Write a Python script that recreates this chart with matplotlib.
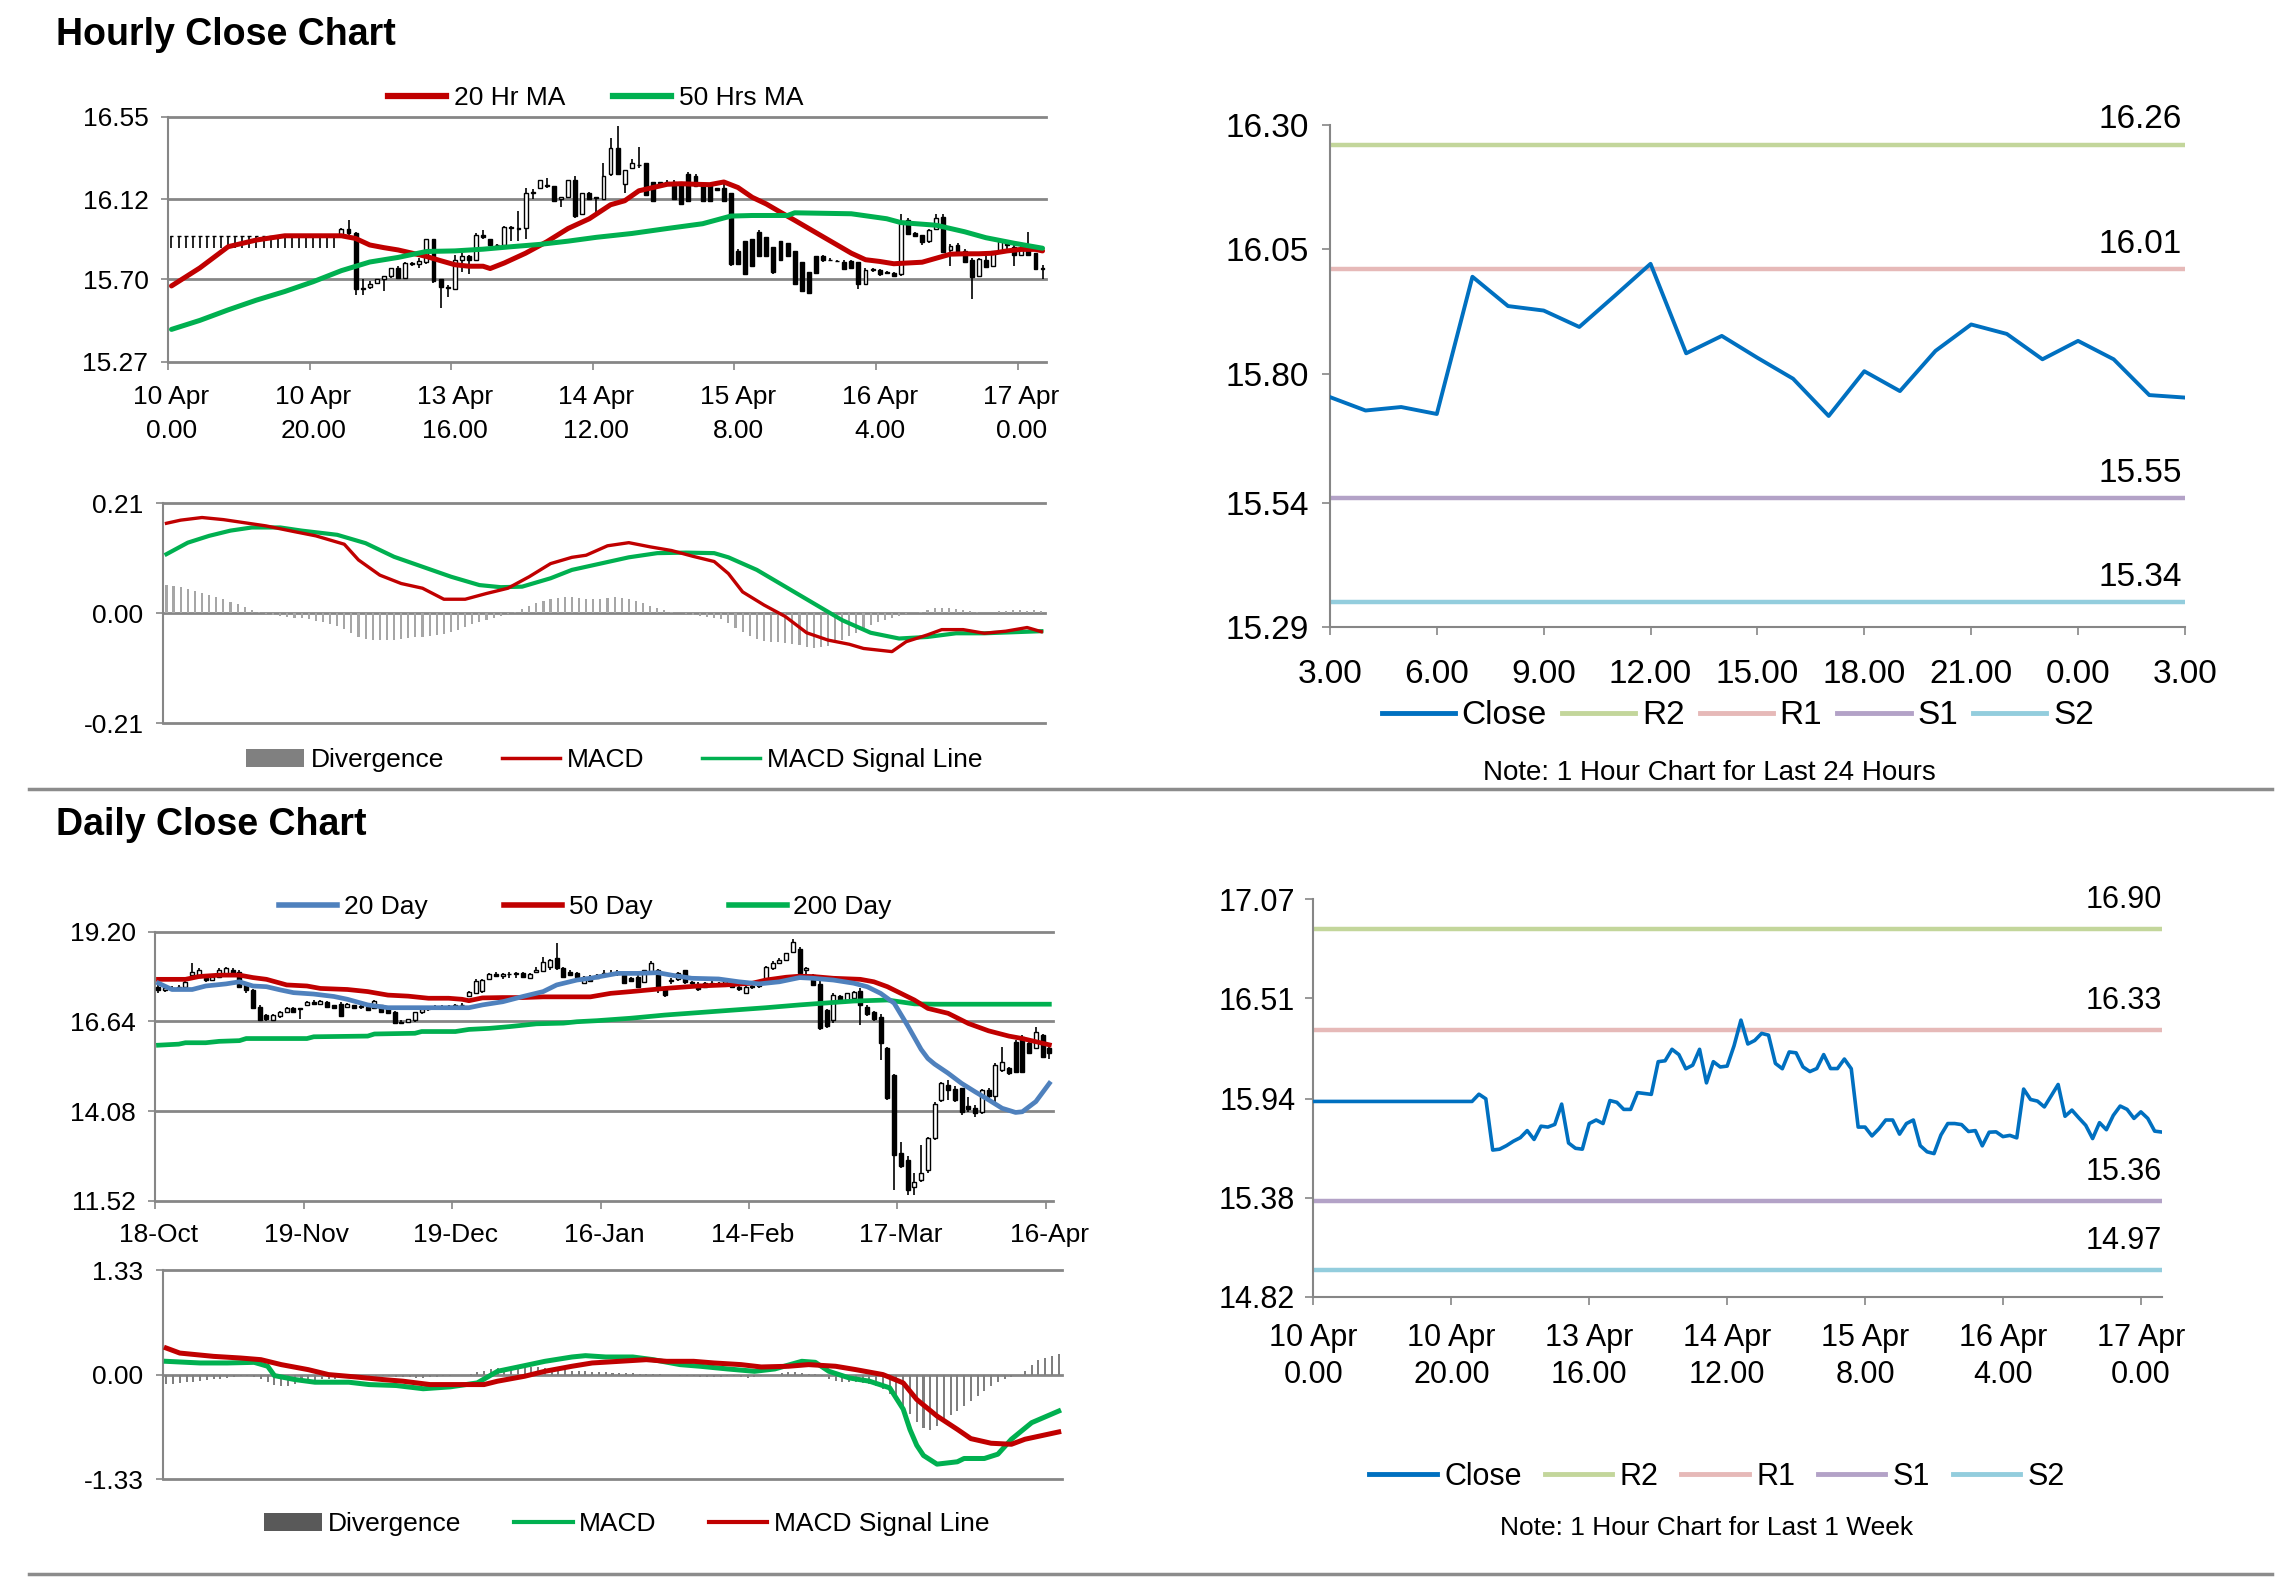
import numpy as np
import matplotlib
matplotlib.use('Agg')
import matplotlib.pyplot as plt
from matplotlib.lines import Line2D
from matplotlib.patches import Patch

plt.rcParams['font.family'] = ['Liberation Sans', 'DejaVu Sans']

# ---------------- hourly candles (10 Apr 0.00 -> 17 Apr 3.00) ----------------
hourly_labels = ['10 Apr\n0.00', '10 Apr\n20.00', '13 Apr\n16.00', '14 Apr\n12.00',
                 '15 Apr\n8.00', '16 Apr\n4.00', '17 Apr\n0.00']
hourly_open = [
    15.925, 15.925, 15.925, 15.925, 15.925, 15.925, 15.925, 15.925, 15.925, 15.925,
    15.925, 15.925, 15.925, 15.925, 15.925, 15.925, 15.925, 15.925, 15.925, 15.925,
    15.925, 15.925, 15.925, 15.925, 15.93, 15.966, 15.94, 15.65, 15.66, 15.68,
    15.70, 15.72, 15.76, 15.71, 15.785, 15.78, 15.79, 15.91, 15.70, 15.66,
    15.65, 15.80, 15.82, 15.80, 15.93, 15.91, 15.88, 15.88, 15.975, 15.97,
    15.97, 16.15, 16.18, 16.195, 16.19, 16.12, 16.13, 16.22, 16.04, 16.15,
    16.13, 16.12, 16.25, 16.385, 16.20, 16.28, 16.30, 16.31, 16.21, 16.21,
    16.21, 16.21, 16.197, 16.25, 16.24, 16.197, 16.197, 16.18, 16.18, 16.15,
    15.85, 15.90, 15.91, 15.95, 15.92, 15.87, 15.90, 15.89, 15.85, 15.79,
    15.74, 15.82, 15.82, 15.80, 15.795, 15.79, 15.794, 15.79, 15.674, 15.75,
    15.751, 15.74, 15.735, 15.726, 16.01, 15.94, 15.93, 15.90, 15.966, 16.026,
    15.855, 15.88, 15.846, 15.80, 15.717, 15.80, 15.77, 15.85, 15.90, 15.871,
    15.83, 15.854, 15.837, 15.76]
hourly_high = [
    15.925, 15.925, 15.925, 15.925, 15.925, 15.925, 15.925, 15.925, 15.925, 15.925,
    15.925, 15.925, 15.925, 15.925, 15.925, 15.925, 15.925, 15.925, 15.925, 15.925,
    15.925, 15.925, 15.925, 15.925, 15.97, 16.01, 15.95, 15.70, 15.69, 15.70,
    15.72, 15.76, 15.77, 15.79, 15.79, 15.81, 15.91, 15.91, 15.70, 15.67,
    15.83, 15.84, 15.83, 15.94, 15.96, 15.91, 15.885, 15.98, 15.98, 16.06,
    16.18, 16.17, 16.22, 16.23, 16.19, 16.13, 16.22, 16.24, 16.15, 16.155,
    16.13, 16.31, 16.44, 16.50, 16.27, 16.33, 16.39, 16.31, 16.21, 16.21,
    16.22, 16.22, 16.20, 16.26, 16.25, 16.20, 16.20, 16.18, 16.20, 16.15,
    15.86, 15.90, 15.91, 15.96, 15.92, 15.87, 15.90, 15.89, 15.85, 15.79,
    15.74, 15.82, 15.83, 15.81, 15.80, 15.80, 15.80, 15.79, 15.76, 15.76,
    15.755, 15.745, 15.74, 16.04, 16.02, 15.95, 15.93, 15.966, 16.04, 16.04,
    15.883, 15.89, 15.86, 15.81, 15.81, 15.82, 15.85, 15.90, 15.905, 15.88,
    15.875, 15.949, 15.84, 15.777]
hourly_low = [
    15.865, 15.865, 15.865, 15.865, 15.865, 15.865, 15.865, 15.865, 15.865, 15.865,
    15.865, 15.865, 15.865, 15.865, 15.865, 15.865, 15.865, 15.865, 15.865, 15.865,
    15.865, 15.865, 15.865, 15.865, 15.93, 15.93, 15.62, 15.62, 15.65, 15.68,
    15.64, 15.71, 15.70, 15.70, 15.77, 15.76, 15.78, 15.68, 15.55, 15.61,
    15.65, 15.74, 15.73, 15.80, 15.91, 15.88, 15.875, 15.88, 15.90, 15.90,
    15.91, 16.12, 16.18, 16.18, 16.11, 16.08, 16.13, 16.02, 16.04, 16.12,
    16.05, 16.12, 16.24, 16.25, 16.15, 16.28, 16.28, 16.14, 16.11, 16.20,
    16.19, 16.12, 16.09, 16.11, 16.19, 16.11, 16.11, 16.16, 16.11, 15.77,
    15.78, 15.73, 15.77, 15.82, 15.82, 15.73, 15.80, 15.82, 15.67, 15.64,
    15.63, 15.73, 15.79, 15.80, 15.79, 15.75, 15.76, 15.65, 15.674, 15.74,
    15.72, 15.73, 15.715, 15.72, 15.93, 15.92, 15.88, 15.89, 15.96, 15.84,
    15.769, 15.83, 15.785, 15.60, 15.715, 15.76, 15.77, 15.845, 15.85, 15.769,
    15.83, 15.825, 15.75, 15.70]
hourly_close = [
    15.925, 15.925, 15.925, 15.925, 15.925, 15.925, 15.925, 15.925, 15.925, 15.925,
    15.925, 15.925, 15.925, 15.925, 15.925, 15.925, 15.925, 15.925, 15.925, 15.925,
    15.925, 15.925, 15.925, 15.925, 15.966, 15.94, 15.65, 15.655, 15.675, 15.70,
    15.72, 15.76, 15.71, 15.785, 15.78, 15.795, 15.91, 15.69, 15.66, 15.655,
    15.80, 15.82, 15.80, 15.93, 15.92, 15.88, 15.88, 15.975, 15.97, 15.965,
    16.15, 16.155, 16.22, 16.19, 16.11, 16.13, 16.22, 16.03, 16.15, 16.12,
    16.125, 16.24, 16.385, 16.25, 16.27, 16.31, 16.30, 16.14, 16.11, 16.205,
    16.20, 16.12, 16.094, 16.111, 16.19, 16.111, 16.111, 16.165, 16.11, 15.78,
    15.78, 15.73, 15.77, 15.82, 15.82, 15.74, 15.80, 15.82, 15.675, 15.64,
    15.63, 15.735, 15.80, 15.80, 15.794, 15.755, 15.76, 15.674, 15.751, 15.753,
    15.726, 15.733, 15.719, 15.995, 15.936, 15.927, 15.894, 15.957, 16.021, 15.841,
    15.876, 15.832, 15.790, 15.715, 15.805, 15.765, 15.846, 15.899, 15.880, 15.829,
    15.866, 15.829, 15.757, 15.752]

ma20_idx = [0, 4, 8, 12, 16, 20, 24, 26, 28, 30, 32, 34, 36, 38, 40, 42, 44, 45, 47, 50,
            53, 56, 59, 62, 64, 66, 68, 70, 72, 74, 76, 78, 80, 82, 84, 86, 88, 90, 92, 94,
            96, 98, 100, 102, 104, 106, 108, 110, 112, 114, 116, 118, 120, 122, 123]
ma20_val = [15.666, 15.760, 15.871, 15.906, 15.928, 15.928, 15.928, 15.914, 15.880, 15.866,
            15.854, 15.837, 15.820, 15.798, 15.777, 15.769, 15.769, 15.757, 15.786, 15.837,
            15.897, 15.966, 16.017, 16.090, 16.111, 16.163, 16.180, 16.197, 16.200, 16.197,
            16.195, 16.209, 16.180, 16.129, 16.094, 16.051, 16.009, 15.966, 15.923, 15.880,
            15.837, 15.803, 15.794, 15.782, 15.786, 15.790, 15.811, 15.832, 15.834, 15.834,
            15.837, 15.849, 15.857, 15.857, 15.849]
ma50_idx = [0, 4, 8, 12, 16, 20, 24, 28, 32, 36, 40, 44, 48, 52, 56, 60, 65, 70, 75, 79,
            82, 87, 88, 96, 101, 103, 108, 112, 115, 119, 123]
ma50_val = [15.439, 15.486, 15.541, 15.592, 15.637, 15.688, 15.746, 15.791, 15.815, 15.846,
            15.849, 15.858, 15.871, 15.883, 15.900, 15.920, 15.940, 15.966, 15.991, 16.031,
            16.034, 16.034, 16.048, 16.043, 16.017, 15.997, 15.983, 15.949, 15.918, 15.889,
            15.863]

# hourly MACD
hm_macd_idx = [0, 2, 5, 8, 11, 14, 18, 21, 25, 27, 30, 33, 36, 39, 42, 45, 48, 51, 54, 57,
               59, 62, 65, 68, 71, 74, 77, 79, 81, 84, 87, 90, 93, 96, 98, 102, 104, 107, 109, 112,
               115, 118, 121, 123]
hm_macd_val = [0.172, 0.178, 0.183, 0.179, 0.173, 0.167, 0.156, 0.148, 0.132, 0.102,
               0.073, 0.057, 0.048, 0.027, 0.027, 0.038, 0.048, 0.070, 0.095, 0.107,
               0.111, 0.129, 0.135, 0.127, 0.120, 0.109, 0.099, 0.076, 0.041, 0.016,
               -0.006, -0.037, -0.051, -0.059, -0.067, -0.073, -0.054, -0.041, -0.031, -0.031,
               -0.038, -0.034, -0.027, -0.035]
hm_sig_idx = [0, 3, 6, 9, 12, 16, 19, 24, 28, 32, 36, 40, 44, 47, 50, 54, 57, 61, 65, 69,
              73, 77, 79, 83, 87, 91, 95, 99, 103, 107, 111, 115, 119, 123]
hm_sig_val = [0.113, 0.135, 0.148, 0.158, 0.164, 0.164, 0.158, 0.150, 0.134, 0.108,
              0.089, 0.070, 0.054, 0.050, 0.051, 0.067, 0.083, 0.095, 0.107, 0.115,
              0.116, 0.115, 0.107, 0.083, 0.051, 0.019, -0.013, -0.037, -0.048, -0.045,
              -0.038, -0.038, -0.036, -0.034]
hm_div = [0.054, 0.052, 0.050, 0.047, 0.043, 0.039, 0.035, 0.031, 0.027, 0.022,
          0.017, 0.012, 0.007, 0.003, -0.002, -0.004, -0.005, -0.006, -0.008, -0.009,
          -0.011, -0.014, -0.017, -0.020, -0.024, -0.030, -0.038, -0.045, -0.049, -0.051,
          -0.051, -0.050, -0.050, -0.048, -0.047, -0.046, -0.045, -0.044, -0.042, -0.040,
          -0.036, -0.031, -0.026, -0.021, -0.016, -0.012, -0.008, -0.005, -0.002, 0.002,
          0.008, 0.014, 0.020, 0.024, 0.027, 0.029, 0.031, 0.031, 0.030, 0.028,
          0.027, 0.028, 0.030, 0.031, 0.030, 0.028, 0.024, 0.020, 0.015, 0.010,
          0.006, 0.003, 0.001, -0.002, -0.004, -0.005, -0.006, -0.008, -0.010, -0.018,
          -0.027, -0.036, -0.043, -0.048, -0.052, -0.054, -0.055, -0.056, -0.058, -0.061,
          -0.064, -0.066, -0.065, -0.062, -0.057, -0.051, -0.044, -0.037, -0.030, -0.023,
          -0.017, -0.012, -0.008, -0.005, -0.002, 0.001, 0.003, 0.006, 0.010, 0.011,
          0.010, 0.009, 0.007, 0.004, 0.002, 0.000, 0.001, 0.004, 0.005, 0.006,
          0.006, 0.005, 0.006, 0.004]

# pivots
hours_24_labels = ['3.00', '6.00', '9.00', '12.00', '15.00', '18.00', '21.00', '0.00', '3.00']
levels_names = ['R2', 'R1', 'S1', 'S2']
levels_24h = [16.26, 16.01, 15.55, 15.34]
levels_week = [16.90, 16.33, 15.36, 14.97]

# ---------------- daily candles (18-Oct -> 16-Apr) ----------------
daily_labels = ['18-Oct', '19-Nov', '19-Dec', '16-Jan', '14-Feb', '17-Mar', '16-Apr']
daily_open = [
    17.63, 17.54, 17.58, 17.56, 17.63, 17.96, 17.92, 17.87, 17.82, 17.92,
    17.96, 18.11, 18.06, 17.72, 17.53, 17.06, 16.82, 16.68, 16.78, 16.92,
    17.01, 17.01, 17.11, 17.20, 17.15, 17.20, 17.10, 17.15, 17.06, 17.10,
    17.06, 17.05, 17.01, 17.10, 17.01, 16.92, 16.62, 16.63, 16.68, 16.90,
    16.98, 17.02, 17.05, 17.04, 17.08, 17.10, 17.35, 17.44, 17.50, 17.85,
    18.00, 17.93, 18.00, 17.98, 18.02, 17.88, 18.05, 18.08, 18.18, 18.44,
    18.15, 18.06, 18.02, 17.73, 17.90, 17.87, 17.96, 18.03, 18.00, 17.96,
    17.87, 17.92, 17.77, 18.01, 18.10, 17.55, 17.78, 17.85, 18.10, 17.73,
    17.70, 17.62, 17.74, 17.69, 17.73, 17.73, 17.62, 17.45, 17.62, 17.66,
    17.86, 18.15, 18.30, 18.38, 18.62, 18.72, 18.10, 17.96, 17.72, 16.96,
    16.68, 17.35, 17.25, 17.30, 17.50, 17.06, 16.92, 16.77, 15.87, 15.11,
    12.87, 12.68, 11.92, 12.10, 12.40, 13.30, 14.40, 14.82, 14.70, 14.73,
    14.21, 14.18, 14.06, 14.68, 14.50, 15.25, 15.30, 16.06, 16.20, 16.01,
    15.87, 16.25, 15.87]
daily_high = [
    17.73, 17.63, 17.65, 17.68, 17.78, 18.30, 18.15, 17.92, 17.95, 18.15,
    18.20, 18.16, 18.10, 17.75, 17.55, 17.10, 16.86, 16.86, 16.95, 17.06,
    17.04, 17.02, 17.22, 17.26, 17.25, 17.22, 17.12, 17.18, 17.16, 17.12,
    17.12, 17.07, 17.25, 17.12, 17.03, 16.95, 16.68, 16.72, 16.92, 17.02,
    17.06, 17.11, 17.10, 17.11, 17.15, 17.16, 17.50, 17.84, 17.85, 18.03,
    18.05, 18.02, 18.06, 18.06, 18.05, 18.03, 18.18, 18.49, 18.42, 18.87,
    18.20, 18.12, 18.06, 17.94, 17.95, 17.98, 18.10, 18.12, 18.10, 18.04,
    17.90, 17.95, 18.12, 18.35, 18.13, 17.63, 17.87, 18.06, 18.12, 17.80,
    17.75, 17.76, 17.78, 17.76, 17.85, 17.78, 17.66, 17.66, 17.70, 17.75,
    18.22, 18.36, 18.45, 18.60, 18.98, 18.76, 18.20, 17.98, 17.80, 17.00,
    17.44, 17.40, 17.46, 17.50, 17.58, 17.10, 16.95, 16.85, 15.90, 15.15,
    13.21, 12.80, 12.30, 13.10, 13.35, 14.35, 14.92, 14.97, 14.80, 14.75,
    14.49, 14.25, 14.70, 14.75, 15.45, 15.92, 15.35, 16.10, 16.25, 16.05,
    16.49, 16.28, 15.90]
daily_low = [
    17.44, 17.49, 17.52, 17.50, 17.60, 17.90, 17.90, 17.77, 17.80, 17.90,
    17.94, 17.98, 17.60, 17.45, 16.98, 16.64, 16.66, 16.64, 16.75, 16.88,
    16.90, 16.72, 17.08, 17.13, 17.10, 17.04, 16.99, 16.77, 17.03, 17.00,
    17.00, 16.95, 16.99, 16.90, 16.88, 16.56, 16.58, 16.60, 16.62, 16.86,
    16.95, 17.00, 17.00, 17.02, 17.05, 17.07, 17.33, 17.42, 17.45, 17.82,
    17.90, 17.86, 17.87, 17.88, 17.88, 17.86, 18.04, 18.05, 18.10, 18.10,
    17.90, 17.94, 17.90, 17.70, 17.76, 17.85, 17.93, 17.95, 17.94, 17.70,
    17.75, 17.60, 17.75, 17.98, 17.44, 17.34, 17.72, 17.80, 17.70, 17.66,
    17.50, 17.60, 17.66, 17.66, 17.70, 17.58, 17.50, 17.42, 17.57, 17.60,
    17.84, 18.10, 18.28, 18.35, 18.60, 18.00, 17.95, 17.65, 16.40, 16.45,
    16.60, 17.15, 17.20, 17.25, 16.54, 16.80, 16.65, 15.55, 14.40, 11.83,
    12.45, 11.68, 11.68, 12.06, 12.30, 13.25, 14.35, 14.40, 14.35, 13.96,
    14.06, 13.92, 14.00, 14.45, 14.35, 15.20, 15.10, 15.18, 15.18, 15.70,
    15.85, 15.60, 15.58]
daily_close = [
    17.54, 17.58, 17.56, 17.63, 17.75, 18.06, 18.11, 17.82, 17.90, 18.11,
    18.15, 18.01, 17.63, 17.53, 17.01, 16.68, 16.70, 16.82, 16.92, 17.01,
    16.92, 16.98, 17.20, 17.15, 17.22, 17.06, 17.01, 16.78, 17.14, 17.03,
    17.08, 16.96, 17.22, 16.92, 16.89, 16.58, 16.60, 16.70, 16.90, 16.98,
    17.00, 17.05, 17.04, 17.08, 17.10, 17.12, 17.47, 17.80, 17.82, 18.00,
    17.93, 18.00, 17.98, 18.02, 17.92, 18.00, 18.12, 18.34, 18.39, 18.15,
    17.92, 17.96, 17.92, 17.92, 17.78, 17.95, 18.03, 18.00, 18.05, 17.73,
    17.79, 17.63, 18.10, 18.30, 17.55, 17.40, 17.82, 18.02, 17.77, 17.75,
    17.55, 17.74, 17.69, 17.73, 17.80, 17.62, 17.55, 17.62, 17.66, 17.72,
    18.20, 18.30, 18.40, 18.58, 18.91, 18.01, 18.15, 17.68, 16.45, 16.50,
    17.40, 17.20, 17.44, 17.49, 17.10, 16.85, 16.70, 16.01, 14.44, 12.83,
    12.50, 11.83, 12.06, 12.30, 13.30, 14.28, 14.87, 14.68, 14.40, 14.06,
    14.15, 14.03, 14.68, 14.50, 15.40, 15.49, 15.16, 15.20, 15.20, 15.73,
    16.35, 15.63, 15.75]

d20_idx = [0, 2, 5, 7, 10, 12, 14, 16, 18, 20, 23, 26, 28, 31, 34, 37, 40, 43, 46, 48,
           51, 54, 57, 59, 62, 64, 68, 71, 74, 76, 79, 83, 86, 89, 92, 95, 97, 100, 103, 105,
           107, 109, 110, 111, 112, 113, 114, 115, 117, 119, 121, 123, 125, 127, 128, 130, 132]
d20_val = [17.73, 17.55, 17.55, 17.65, 17.71, 17.77, 17.65, 17.63, 17.54, 17.46,
           17.42, 17.35, 17.27, 17.11, 17.03, 17.03, 17.03, 17.03, 17.03, 17.11,
           17.20, 17.35, 17.49, 17.68, 17.82, 17.87, 18.01, 18.01, 18.03, 17.96,
           17.87, 17.85, 17.77, 17.71, 17.77, 17.89, 17.87, 17.82, 17.73, 17.63,
           17.44, 17.16, 16.84, 16.52, 16.18, 15.84, 15.58, 15.42, 15.16, 14.87,
           14.63, 14.40, 14.16, 14.04, 14.06, 14.35, 14.87]
d50_idx = [0, 4, 6, 9, 12, 14, 16, 19, 22, 24, 28, 31, 34, 37, 40, 43, 45, 46, 48, 51,
           54, 57, 61, 64, 67, 70, 75, 80, 84, 88, 90, 93, 95, 97, 100, 104, 106, 108, 110, 112,
           114, 117, 120, 123, 126, 128, 130, 132]
d50_val = [17.84, 17.84, 17.92, 17.96, 17.96, 17.89, 17.84, 17.68, 17.65, 17.58,
           17.55, 17.49, 17.39, 17.36, 17.30, 17.30, 17.27, 17.23, 17.31, 17.32,
           17.32, 17.34, 17.34, 17.34, 17.44, 17.49, 17.58, 17.65, 17.68, 17.73,
           17.82, 17.90, 17.93, 17.92, 17.87, 17.84, 17.77, 17.63, 17.44, 17.25,
           17.01, 16.87, 16.58, 16.37, 16.22, 16.15, 16.06, 15.97]
d200_idx = [0, 3, 4, 7, 9, 12, 13, 22, 23, 31, 32, 38, 39, 44, 46, 49, 52, 56, 60, 62,
            65, 70, 75, 80, 85, 90, 95, 100, 103, 108, 112, 115, 132]
d200_val = [15.96, 15.99, 16.03, 16.03, 16.07, 16.09, 16.15, 16.15, 16.20, 16.22,
            16.28, 16.30, 16.35, 16.35, 16.41, 16.44, 16.49, 16.57, 16.59, 16.63,
            16.66, 16.73, 16.82, 16.89, 16.96, 17.03, 17.11, 17.18, 17.22, 17.25,
            17.14, 17.13, 17.13]

# daily MACD
dm_macd_idx = [0, 5, 9, 13, 15, 16, 19, 22, 27, 30, 34, 38, 42, 46, 49, 53, 56, 60, 62, 65,
               69, 72, 76, 79, 83, 87, 90, 94, 96, 98, 101, 104, 107, 109, 110, 111, 112, 114, 117, 118,
               121, 123, 125, 128, 132]
dm_macd_val = [0.169, 0.148, 0.148, 0.156, 0.106, -0.013, -0.063, -0.097, -0.097, -0.127,
               -0.139, -0.180, -0.156, -0.106, 0.042, 0.114, 0.169, 0.224, 0.241, 0.224,
               0.224, 0.190, 0.127, 0.106, 0.072, 0.042, 0.072, 0.169, 0.156, 0.042,
               -0.042, -0.084, -0.169, -0.44, -0.70, -0.90, -1.03, -1.14, -1.11, -1.068,
               -1.068, -1.013, -0.823, -0.612, -0.464]
dm_sig_idx = [0, 2, 7, 11, 14, 17, 21, 24, 28, 32, 35, 39, 42, 47, 49, 53, 56, 60, 63, 67,
              71, 74, 78, 81, 85, 88, 92, 95, 99, 102, 106, 109, 111, 114, 117, 119, 122, 125, 127, 132]
dm_sig_val = [0.338, 0.274, 0.232, 0.211, 0.190, 0.127, 0.063, 0.000, -0.030, -0.063,
              -0.084, -0.127, -0.127, -0.127, -0.084, -0.021, 0.042, 0.106, 0.148, 0.169,
              0.190, 0.169, 0.169, 0.148, 0.127, 0.097, 0.106, 0.127, 0.106, 0.063,
              0.000, -0.106, -0.317, -0.528, -0.697, -0.815, -0.874, -0.887, -0.823, -0.730]
dm_div = [-0.12, -0.12, -0.11, -0.10, -0.09, -0.08, -0.07, -0.06, -0.05, -0.04,
          -0.03, -0.02, -0.02, -0.03, -0.06, -0.10, -0.13, -0.15, -0.14, -0.12,
          -0.10, -0.08, -0.07, -0.06, -0.05, -0.05, -0.04, -0.04, -0.03, -0.03,
          -0.02, -0.02, -0.02, -0.02, -0.03, -0.03, -0.03, -0.04, -0.04, -0.03,
          -0.03, -0.02, -0.02, -0.01, -0.01, 0.01, 0.03, 0.05, 0.07, 0.08,
          0.09, 0.10, 0.11, 0.11, 0.10, 0.10, 0.09, 0.08, 0.07, 0.06,
          0.05, 0.04, 0.04, 0.03, 0.03, 0.03, 0.02, 0.02, 0.02, 0.02,
          0.01, 0.01, 0.01, 0.01, 0.00, -0.01, -0.02, -0.02, -0.02, -0.03,
          -0.03, -0.03, -0.03, -0.02, -0.02, -0.03, -0.04, -0.03, -0.02, -0.01,
          0.00, 0.02, 0.03, 0.03, 0.02, 0.01, 0.01, -0.02, -0.05, -0.08,
          -0.09, -0.10, -0.10, -0.11, -0.12, -0.15, -0.18, -0.25, -0.33, -0.40,
          -0.50, -0.60, -0.68, -0.70, -0.66, -0.60, -0.52, -0.46, -0.40, -0.34,
          -0.27, -0.21, -0.15, -0.10, -0.06, -0.03, 0.00, 0.04, 0.12, 0.18,
          0.21, 0.24, 0.26]

# ---------------- styling ----------------
GRID = '#868686'
RED = '#C00000'
GREEN = '#00B050'
BLUE = '#4F81BD'
CLOSE_BLUE = '#0070C0'
LEVEL_COLORS = ['#C3D69B', '#E6B9B8', '#B3A2C7', '#93CDDD']


def base_style(ax, fs):
    for s in ['top', 'right', 'bottom']:
        ax.spines[s].set_visible(False)
    ax.spines['left'].set_color(GRID)
    ax.spines['left'].set_linewidth(1.5)
    ax.tick_params(axis='y', colors=GRID, labelcolor='black', labelsize=fs,
                   length=5, width=1.2, pad=9)


def y_grid(ax, ticks, fs):
    ax.set_ylim(ticks[0], ticks[-1])
    ax.set_yticks(ticks)
    ax.set_yticklabels(['%.2f' % t for t in ticks])
    for t in ticks:
        ax.axhline(t, color=GRID, lw=2.0, zorder=1, clip_on=False)


def cat_axis(ax, n, step, labels, fs, pad, spacing):
    ax.set_xlim(-0.5, n - 0.5)
    ax.set_xticks([k * step - 0.5 for k in range(len(labels))])
    ax.set_xticklabels([])
    ax.set_xticks([k * step for k in range(len(labels))], minor=True)
    ax.set_xticklabels(labels, minor=True, fontsize=fs, linespacing=spacing)
    ax.tick_params(axis='x', which='major', colors=GRID, length=6, width=1.2)
    ax.tick_params(axis='x', which='minor', length=0, pad=pad)


def candles(ax, o, h, l, c, w):
    o, h, l, c = (np.asarray(v) for v in (o, h, l, c))
    x = np.arange(len(c))
    ax.vlines(x, l, h, colors='black', lw=1.2, zorder=3)
    up = c >= o
    ax.bar(x, np.abs(c - o), w, np.minimum(o, c),
           color=['white' if u else 'black' for u in up],
           edgecolor='black', linewidth=1.0, zorder=4)


fig = plt.figure(figsize=(22.91, 15.77), dpi=100)

# ---- hourly candle chart ----
ax = fig.add_axes([0.0733, 0.7706, 0.3833, 0.1554])
base_style(ax, 19)
y_grid(ax, [15.27, 15.70, 16.12, 16.55], 19)
candles(ax, hourly_open, hourly_high, hourly_low, hourly_close, 0.55)
ax.plot(ma20_idx, ma20_val, color=RED, lw=3.6, zorder=5, solid_capstyle='round')
ax.plot(ma50_idx, ma50_val, color=GREEN, lw=3.6, zorder=5, solid_capstyle='round')
cat_axis(ax, len(hourly_close), 20, hourly_labels, 19, 17, 1.5)
fig.legend([Line2D([], [], color=RED, lw=4.5), Line2D([], [], color=GREEN, lw=4.5)],
           ['20 Hr MA', '50 Hrs MA'], loc='center', bbox_to_anchor=(0.26, 0.938),
           ncol=2, frameon=False, fontsize=19, handlelength=2.2, handletextpad=0.3,
           columnspacing=1.8)

# ---- hourly MACD ----
ax = fig.add_axes([0.0711, 0.5413, 0.385, 0.1395])
base_style(ax, 19)
y_grid(ax, [-0.21, 0.00, 0.21], 19)
ax.bar(np.arange(len(hm_div)), hm_div, 0.3, color='#A6A6A6', zorder=2)
ax.plot(hm_macd_idx, hm_macd_val, color=RED, lw=2.4, zorder=4)
ax.plot(hm_sig_idx, hm_sig_val, color=GREEN, lw=3.0, zorder=3)
ax.set_xlim(-0.5, len(hm_div) - 0.5)
ax.tick_params(axis='x', bottom=False, labelbottom=False)
fig.legend([Patch(facecolor='#808080'), Line2D([], [], color=RED, lw=2.5),
            Line2D([], [], color=GREEN, lw=2.5)],
           ['Divergence', 'MACD', 'MACD Signal Line'], loc='center',
           bbox_to_anchor=(0.268, 0.518), ncol=3, frameon=False, fontsize=19,
           handlelength=2.2, handletextpad=0.25, columnspacing=2.2)

# ---- 24h pivot chart ----
last24 = hourly_close[-25:]
ax = fig.add_axes([0.5805, 0.6022, 0.3732, 0.3185])
ticks = [15.29, 15.54, 15.80, 16.05, 16.30]
ax.set_ylim(ticks[0], ticks[-1])
ax.set_yticks(ticks)
ax.set_yticklabels(['%.2f' % t for t in ticks])
for s in ['top', 'right']:
    ax.spines[s].set_visible(False)
for s in ['left', 'bottom']:
    ax.spines[s].set_color(GRID)
    ax.spines[s].set_linewidth(1.5)
ax.tick_params(colors=GRID, labelcolor='black', labelsize=24, length=6, width=1.2)
ax.tick_params(axis='y', pad=9)
ax.tick_params(axis='x', pad=17)
ax.set_xlim(0, len(last24) - 1)
ax.set_xticks(np.arange(0, len(last24), 3))
ax.set_xticklabels(hours_24_labels)
for lv, col in zip(levels_24h, LEVEL_COLORS):
    ax.axhline(lv, color=col, lw=3.2, zorder=2)
    ax.annotate('%.2f' % lv, xy=(1.0, lv), xycoords=('axes fraction', 'data'),
                xytext=(-2, 18), textcoords='offset points', ha='right', va='center',
                fontsize=24)
ax.plot(np.arange(len(last24)), last24, color=CLOSE_BLUE, lw=2.8, zorder=3)
fig.legend([Line2D([], [], color=CLOSE_BLUE, lw=3.5)] +
           [Line2D([], [], color=c, lw=3.5) for c in LEVEL_COLORS],
           ['Close'] + levels_names, loc='center', bbox_to_anchor=(0.7585, 0.546),
           ncol=5, frameon=False, fontsize=24, handlelength=2.2, handletextpad=0.2,
           columnspacing=0.45)
fig.text(0.746, 0.5098, 'Note: 1 Hour Chart for Last 24 Hours', ha='center',
         va='center', fontsize=20)

# ---- daily candle chart ----
ax = fig.add_axes([0.0677, 0.2386, 0.3918, 0.1706])
base_style(ax, 19)
y_grid(ax, [11.52, 14.08, 16.64, 19.20], 19)
candles(ax, daily_open, daily_high, daily_low, daily_close, 0.6)
ax.plot(d200_idx, d200_val, color=GREEN, lw=3.4, zorder=5)
ax.plot(d50_idx, d50_val, color=RED, lw=3.4, zorder=5)
ax.plot(d20_idx, d20_val, color=BLUE, lw=3.4, zorder=5)
cat_axis(ax, len(daily_close), 22, daily_labels, 19, 16, 1.3)
fig.legend([Line2D([], [], color=c, lw=4) for c in (BLUE, RED, GREEN)],
           ['20 Day', '50 Day', '200 Day'], loc='center', bbox_to_anchor=(0.2555, 0.4249),
           ncol=3, frameon=False, fontsize=19, handlelength=2.2, handletextpad=0.25,
           columnspacing=2.9)

# ---- daily MACD ----
ax = fig.add_axes([0.0711, 0.0621, 0.3925, 0.1325])
base_style(ax, 19)
y_grid(ax, [-1.33, 0.00, 1.33], 19)
ax.bar(np.arange(len(dm_div)), dm_div, 0.3, color='#7F7F7F', zorder=2)
ax.plot(dm_macd_idx, dm_macd_val, color=GREEN, lw=3.6, zorder=3)
ax.plot(dm_sig_idx, dm_sig_val, color=RED, lw=3.6, zorder=4)
ax.set_xlim(-0.5, len(dm_div) - 0.5)
ax.tick_params(axis='x', bottom=False, labelbottom=False)
fig.legend([Patch(facecolor='#595959'), Line2D([], [], color=GREEN, lw=3),
            Line2D([], [], color=RED, lw=3)],
           ['Divergence', 'MACD', 'MACD Signal Line'], loc='center',
           bbox_to_anchor=(0.2735, 0.0336), ncol=3, frameon=False, fontsize=19,
           handlelength=2.2, handletextpad=0.25, columnspacing=2.0)

# ---- weekly pivot chart ----
ax = fig.add_axes([0.5733, 0.1777, 0.3702, 0.2522])
ticks = [14.82, 15.38, 15.94, 16.51, 17.07]
ax.set_ylim(ticks[0], ticks[-1])
ax.set_yticks(ticks)
ax.set_yticklabels(['%.2f' % t for t in ticks])
for s in ['top', 'right']:
    ax.spines[s].set_visible(False)
for s in ['left', 'bottom']:
    ax.spines[s].set_color(GRID)
    ax.spines[s].set_linewidth(1.5)
ax.tick_params(colors=GRID, labelcolor='black', labelsize=22, length=6, width=1.2)
ax.tick_params(axis='y', pad=7)
ax.tick_params(axis='x', pad=13)
ax.set_xlim(0, len(hourly_close) - 1)
ax.set_xticks(np.arange(0, len(hourly_close), 20))
ax.set_xticklabels(hourly_labels, linespacing=1.3)
for lv, col in zip(levels_week, LEVEL_COLORS):
    ax.axhline(lv, color=col, lw=3.2, zorder=2)
    ax.annotate('%.2f' % lv, xy=(1.0, lv), xycoords=('axes fraction', 'data'),
                xytext=(0, 21), textcoords='offset points', ha='right', va='center',
                fontsize=22)
ax.plot(np.arange(len(hourly_close)), hourly_close, color=CLOSE_BLUE, lw=2.6, zorder=3)
fig.legend([Line2D([], [], color=CLOSE_BLUE, lw=3.5)] +
           [Line2D([], [], color=c, lw=3.5) for c in LEVEL_COLORS],
           ['Close'] + levels_names, loc='center', bbox_to_anchor=(0.7496, 0.0634),
           ncol=5, frameon=False, fontsize=22, handlelength=2.2, handletextpad=0.25,
           columnspacing=0.75)
fig.text(0.745, 0.031, 'Note: 1 Hour Chart for Last 1 Week', ha='center',
         va='center', fontsize=19)

# ---- titles and separators ----
fig.text(0.0244, 0.978, 'Hourly Close Chart', fontsize=27, fontweight='bold', va='center')
fig.text(0.0244, 0.477, 'Daily Close Chart', fontsize=27, fontweight='bold', va='center')
fig.add_artist(Line2D([0.0128, 0.9919], [0.5, 0.5], color='#8C8C8C', lw=2.5))
fig.add_artist(Line2D([0.0128, 0.9919], [0.002, 0.002], color='#8C8C8C', lw=2.5))

fig.savefig('out.png', dpi=100)
